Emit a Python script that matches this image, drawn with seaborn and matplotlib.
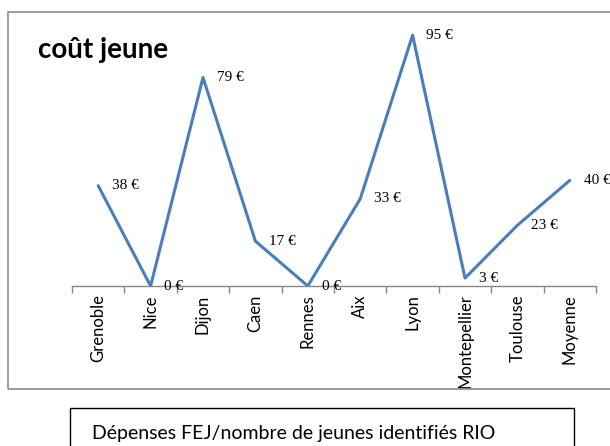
"""Coût par jeune identifié RIO, par ville."""

import numpy as np
import matplotlib.pyplot as plt
import seaborn as sns
from matplotlib.patches import Rectangle

villes = ["Grenoble", "Nice", "Dijon", "Caen", "Rennes", "Aix", "Lyon",
          "Montepellier", "Toulouse", "Moyenne"]
couts = [38, 0, 79, 17, 0, 33, 95, 3, 23, 40]
etiquettes = [f"{v} €" for v in couts]

sns.set_style("white")
plt.rcParams['font.family'] = ['Lato', 'DejaVu Sans']
plt.rcParams['text.color'] = 'black'
plt.rcParams['xtick.color'] = 'black'

W, H = 610, 446
fig = plt.figure(figsize=(W / 100, H / 100), dpi=100)

# plot area placed in pixel coordinates of the reference
ax = fig.add_axes([72 / W, 1 - 286 / H, (596 - 72) / W, (286 - 22) / H])

pos = np.arange(len(villes))
sns.lineplot(x=pos, y=couts, sort=False, color='#4A7EBB', lw=2.2, ax=ax)

for x, y, lbl in zip(pos, couts, etiquettes):
    ax.annotate(lbl, (x, y), xytext=(10, 0), textcoords='offset points',
                ha='left', va='center', fontsize=11,
                fontfamily='Liberation Serif', color='black')

ax.set_xlim(-0.5, len(villes) - 0.5)
ax.set_ylim(0, 100)
ax.set_yticks([])
ax.set_xticks(pos)
ax.set_xticklabels(villes, rotation=90, ha='center', va='top', fontsize=12)
ax.set_xticks(np.arange(-0.5, len(villes)), minor=True)
ax.tick_params(axis='x', which='major', length=0, pad=6, colors='black')
ax.tick_params(axis='x', which='minor', length=5, width=1, color='#868686',
               bottom=True)
for side in ['top', 'right', 'left']:
    ax.spines[side].set_visible(False)
ax.spines['bottom'].set_color('#868686')
ax.spines['bottom'].set_linewidth(1)
ax.set_xlabel('')
ax.set_ylabel('')

# title and frames
fig.text(38 / W, 1 - 50 / H, "coût jeune", fontsize=20, fontweight='bold',
         va='center', ha='left', color='black')
fig.add_artist(Rectangle((8 / W, 1 - 389 / H), 1.1, (389 - 12) / H,
                         transform=fig.transFigure, fill=False,
                         edgecolor='#8c8c8c', lw=1.2, clip_on=False))
fig.add_artist(Rectangle((70 / W, -0.05), (574 - 70) / W, 0.05 + 1 - 408 / H,
                         transform=fig.transFigure, fill=False,
                         edgecolor='black', lw=1, clip_on=False))
fig.text(92 / W, 1 - 433 / H, "Dépenses FEJ/nombre de jeunes identifiés RIO",
         fontsize=14, va='center', ha='left', color='black')

fig.savefig('out.png', dpi=100)
